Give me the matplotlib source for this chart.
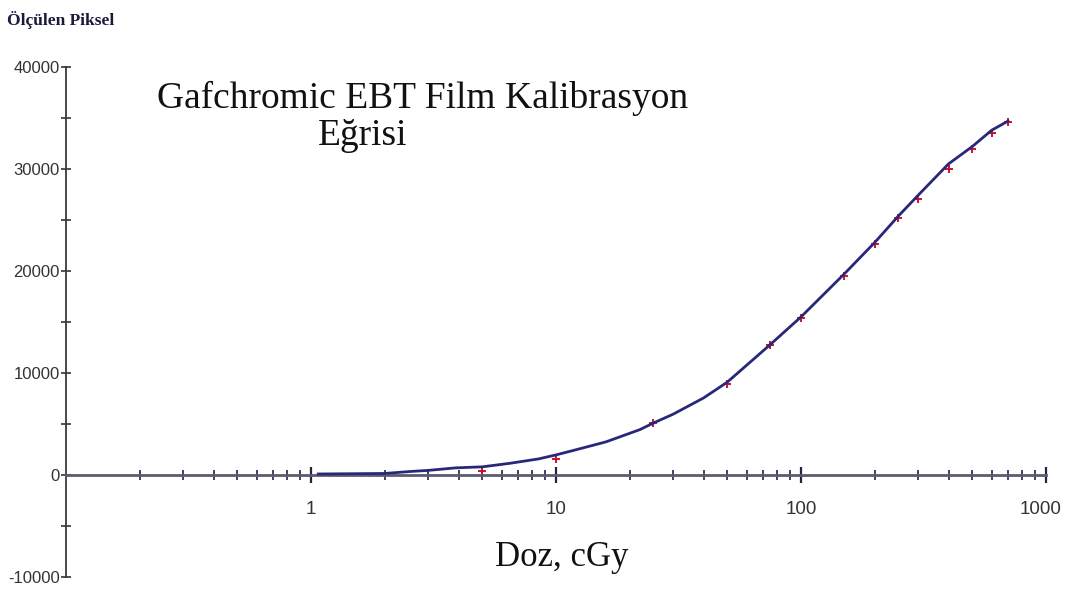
import matplotlib
matplotlib.use("Agg")
import matplotlib.pyplot as plt
import matplotlib.transforms as mtransforms
from matplotlib.ticker import FixedLocator, NullFormatter, FixedFormatter

# Measured calibration points (dose in cGy, measured pixel value)
dose_points = [5, 10, 25, 50, 75, 100, 150, 200, 250, 300, 400, 500, 600, 700]
pixel_points = [400, 1600, 5100, 8900, 12700, 15400, 19500, 22650, 25200,
                27100, 30000, 32000, 33500, 34600]

# Fitted calibration curve
dose_curve = [1.07, 2, 2.56, 3, 3.9, 5, 6.5, 8.5, 10, 12, 16, 22, 25, 30, 40,
              50, 75, 100, 150, 200, 250, 300, 400, 500, 600, 700]
pixel_curve = [100, 150, 350, 450, 700, 800, 1150, 1580, 1970, 2460, 3250,
               4450, 5100, 5950, 7550, 9100, 12800, 15500, 19700, 22800,
               25400, 27400, 30500, 32200, 33800, 34700]

x_major = [1, 10, 100, 1000]
x_major_labels = ["1", "10", "100", "1000"]
y_major = [-10000, 0, 10000, 20000, 30000, 40000]
y_major_labels = ["-10000", "0", "10000", "20000", "30000", "40000"]

title_line1 = "Gafchromic EBT Film Kalibrasyon"
title_line2 = "Eğrisi"
y_label = "Ölçülen Piksel"
x_label = "Doz, cGy"

W, H = 1066, 593
fig = plt.figure(figsize=(W / 100, H / 100), dpi=100)
fig.patch.set_facecolor("white")

left, right = 66 / W, 1046 / W
top, bottom = 1 - 67 / H, 1 - 577 / H
ax = fig.add_axes([left, bottom, right - left, top - bottom])
ax.set_xscale("log")
ax.set_xlim(0.1, 1000)
ax.set_ylim(-10000, 40000)

for s in ["top", "right"]:
    ax.spines[s].set_visible(False)
ax.spines["bottom"].set_position(("data", 0))
ax.spines["bottom"].set_color("#5c5c70")
ax.spines["bottom"].set_linewidth(2.0)
ax.spines["left"].set_color("#3a3a3a")
ax.spines["left"].set_linewidth(1.3)
ax.spines["left"].set_bounds(-10000, 40000)

sans = ["Liberation Sans", "DejaVu Sans"]

# x ticks
minor_x = [m * d for d in [0.1, 1, 10, 100] for m in range(2, 10)]
ax.xaxis.set_major_locator(FixedLocator(x_major))
ax.xaxis.set_major_formatter(FixedFormatter(x_major_labels))
ax.xaxis.set_minor_locator(FixedLocator(minor_x))
ax.xaxis.set_minor_formatter(NullFormatter())
ax.tick_params(axis="x", which="major", direction="inout", length=11, width=1.6,
               color="#222244", pad=13, labelsize=13.5, labelcolor="#333333")
ax.tick_params(axis="x", which="minor", direction="inout", length=7, width=1.2,
               color="#222244")
for lab in ax.get_xticklabels():
    lab.set_family(sans)
    if lab.get_text() == "1000":
        lab.set_transform(lab.get_transform() +
                          mtransforms.ScaledTranslation(-5 / 100, 0, fig.dpi_scale_trans))

# y ticks
ax.yaxis.set_major_locator(FixedLocator(y_major))
ax.yaxis.set_major_formatter(FixedFormatter(y_major_labels))
ax.yaxis.set_minor_locator(FixedLocator(list(range(-5000, 40000, 10000))))
ax.yaxis.set_minor_formatter(NullFormatter())
ax.tick_params(axis="y", which="major", direction="inout", length=7, width=1.2,
               color="#333333", pad=1, labelsize=12, labelcolor="#333333")
ax.tick_params(axis="y", which="minor", direction="inout", length=7, width=1.2,
               color="#333333")
for lab in ax.get_yticklabels():
    lab.set_family(sans)

# data
ax.plot(dose_points, pixel_points, linestyle="none", marker="+", ms=6, mew=1.4,
        color="#cc1133", zorder=2, clip_on=False)
ax.plot(dose_curve, pixel_curve, color="#28287a", lw=2.0, zorder=3,
        solid_joinstyle="round", clip_on=False)

serif = ["Liberation Serif", "DejaVu Serif"]
fig.text(423 / W, 1 - 108 / H, title_line1, ha="center", va="baseline",
         family=serif, fontsize=27, color="#111111")
fig.text(318 / W, 1 - 145 / H, title_line2, ha="left", va="baseline",
         family=serif, fontsize=27, color="#111111")
fig.text(7 / W, 1 - 25 / H, y_label, ha="left", va="baseline",
         family=serif, fontsize=12.5, color="#1a1a3a", fontweight="bold")
fig.text(562 / W, 1 - 566 / H, x_label, ha="center", va="baseline",
         family=serif, fontsize=25, color="#111111")

fig.savefig("out.png", dpi=100, facecolor="white")
